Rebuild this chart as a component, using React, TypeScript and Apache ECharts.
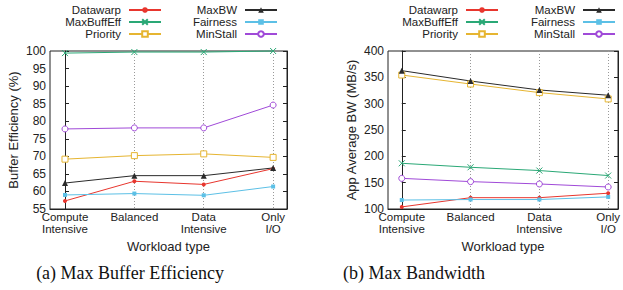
import React, { useEffect, useRef } from "react";
import * as echarts from "echarts";

const categories = ["Compute\nIntensive", "Balanced", "Data\nIntensive", "Only\nI/O"];
const seriesNames = ["Datawarp", "MaxBuffEff", "Priority", "MaxBW", "Fairness", "MinStall"];

// (a) Max Buffer Efficiency — Buffer Efficiency (%)
const datawarpEff = [57.3, 62.9, 62.0, 66.5];
const maxBuffEffEff = [99.4, 99.7, 99.7, 100];
const priorityEff = [69.2, 70.2, 70.7, 69.7];
const maxBWEff = [62.4, 64.5, 64.5, 66.7];
const fairnessEff = [59.0, 59.4, 58.9, 61.4];
const minStallEff = [77.8, 78.1, 78.1, 84.6];

// (b) Max Bandwidth — App Average BW (MB/s)
const datawarpBW = [104, 121.5, 121.5, 130];
const maxBuffEffBW = [186.8, 179.2, 173, 163.5];
const priorityBW = [354.4, 337.3, 321, 309];
const maxBWBW = [362.7, 343, 326, 316];
const fairnessBW = [117, 118, 118, 123];
const minStallBW = [158.2, 152, 147.5, 141.8];

const effTicks = { min: 55, max: 100, interval: 5 };
const bwTicks = { min: 100, max: 400, interval: 50 };

const SANS = '"Liberation Sans", Arial, sans-serif';
const SERIF = '"Liberation Serif", "Times New Roman", serif';

const styles: Record<string, any> = {
  Datawarp: { color: "#e8362e", symbol: "circle", size: 4, open: false },
  MaxBuffEff: { color: "#2aa876", symbol: "path://M0,0L10,10M10,0L0,10", size: 6, cross: true },
  Priority: { color: "#e6b531", symbol: "rect", size: 6, open: true },
  MaxBW: { color: "#2a2a2a", symbol: "triangle", size: 6, open: false },
  Fairness: { color: "#5cc0e6", symbol: "rect", size: 4, open: false },
  MinStall: { color: "#a04ad8", symbol: "circle", size: 6, open: true },
};

function makeSeries(name: string, values: number[], axisIdx: number) {
  const s = styles[name];
  const itemStyle = s.cross
    ? { color: "none", borderColor: s.color, borderWidth: 1 }
    : s.open
    ? { color: "#ffffff", borderColor: s.color, borderWidth: 1 }
    : { color: s.color, borderColor: s.color, borderWidth: 0 };
  return {
    name,
    type: "line",
    xAxisIndex: axisIdx,
    yAxisIndex: axisIdx * 2,
    data: values.map((v, i) => [i, v]),
    symbol: s.symbol,
    symbolSize: s.size,
    showSymbol: true,
    lineStyle: { color: s.color, width: 1 },
    itemStyle,
    emphasis: { disabled: true },
    clip: false,
  };
}

function makeXAxis(gridIndex: number, min: number, max: number) {
  const ticks = [0, 1, 2, 3];
  return {
    type: "value",
    gridIndex,
    min,
    max,
    name: "Workload type",
    nameLocation: "middle",
    nameGap: 24,
    nameTextStyle: { fontFamily: SANS, fontSize: 13, color: "#222" },
    axisLine: { show: true, onZero: false, lineStyle: { color: "#222", width: 1 } },
    axisTick: { show: false, customValues: ticks },
    axisLabel: {
      customValues: ticks,
      formatter: (v: number) => categories[Math.round(v)] ?? "",
      fontFamily: SANS,
      fontSize: 11.5,
      lineHeight: 12,
      color: "#222",
      margin: 2,
    },
    splitLine: {
      show: true,
      customValues: ticks,
      lineStyle: { color: "#999", type: [1, 2], width: 1 },
    },
  };
}

function makeYAxes(gridIndex: number, t: any, name: string, nameGap: number) {
  return [
    {
      type: "value",
      gridIndex,
      position: "left",
      min: t.min,
      max: t.max,
      interval: t.interval,
      name,
      nameLocation: "middle",
      nameGap,
      nameTextStyle: { fontFamily: SANS, fontSize: 13, color: "#222" },
      axisLine: { show: true, lineStyle: { color: "#222", width: 1 } },
      axisTick: { show: true, inside: true, length: 4, lineStyle: { color: "#222" } },
      axisLabel: { fontFamily: SANS, fontSize: 12, color: "#222", margin: 4 },
      splitLine: { show: false },
    },
    {
      type: "value",
      gridIndex,
      position: "right",
      min: t.min,
      max: t.max,
      interval: t.interval,
      axisLine: { show: true, lineStyle: { color: "#222", width: 1 } },
      axisTick: { show: true, inside: true, length: 4, lineStyle: { color: "#222" } },
      axisLabel: { show: false },
      splitLine: { show: false },
    },
  ];
}

function makeLegend(names: string[], right: number) {
  return {
    data: names,
    orient: "vertical",
    align: "right",
    right,
    top: 4,
    padding: 0,
    itemGap: 0,
    itemWidth: 32,
    itemHeight: 7,
    selectedMode: false,
    textStyle: { fontFamily: SANS, fontSize: 11.5, lineHeight: 12, color: "#222", padding: [0, 3, 0, 0] },
  };
}

export default function App() {
  const ref = useRef<HTMLDivElement>(null);
  useEffect(() => {
    if (!ref.current) return;
    const chart = echarts.init(ref.current, null, { renderer: "svg" });
    const leftVals = [datawarpEff, maxBuffEffEff, priorityEff, maxBWEff, fairnessEff, minStallEff];
    const rightVals = [datawarpBW, maxBuffEffBW, priorityBW, maxBWBW, fairnessBW, minStallBW];
    const option: any = {
      animation: false,
      backgroundColor: "#ffffff",
      grid: [
        { left: 50, top: 51, width: 237, height: 158, show: true, borderColor: "#222", borderWidth: 1, backgroundColor: "transparent" },
        { left: 388, top: 51, width: 234, height: 158, show: true, borderColor: "#222", borderWidth: 1, backgroundColor: "transparent" },
      ],
      xAxis: [makeXAxis(0, -0.216, 3.2), makeXAxis(1, -0.2, 3.143)],
      yAxis: [
        ...makeYAxes(0, effTicks, "Buffer Efficiency (%)", 30),
        ...makeYAxes(1, bwTicks, "App Average BW (MB/s)", 30),
      ],
      legend: [
        makeLegend(seriesNames.slice(0, 3), 461),
        makeLegend(seriesNames.slice(3), 345),
        makeLegend(seriesNames.slice(0, 3), 124),
        makeLegend(seriesNames.slice(3), 7),
      ],
      series: [
        ...seriesNames.map((n, i) => makeSeries(n, leftVals[i], 0)),
        ...seriesNames.map((n, i) => makeSeries(n, rightVals[i], 1)),
      ],
      graphic: [
        {
          type: "text",
          x: 130,
          y: 273,
          style: { text: "(a) Max Buffer Efficiency", font: `18px ${SERIF}`, textAlign: "center", textVerticalAlign: "middle", fill: "#111" },
        },
        {
          type: "text",
          x: 414,
          y: 273,
          style: { text: "(b) Max Bandwidth", font: `18px ${SERIF}`, textAlign: "center", textVerticalAlign: "middle", fill: "#111" },
        },
      ],
    };
    chart.setOption(option);
    return () => chart.dispose();
  }, []);
  return (
    <div
      ref={ref}
      style={{ position: "fixed", left: 0, top: 0, width: 623, height: 290, background: "#fff" }}
    />
  );
}
